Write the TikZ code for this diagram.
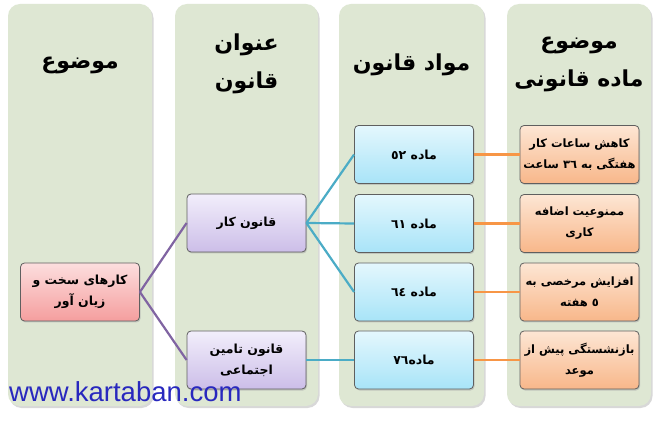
\documentclass[tikz,border=0pt]{standalone}
\usepackage{fontspec}
\usepackage{tikz}
\usetikzlibrary{shadows}
\TeXXeTstate=1
\newfontfamily\arabicfont[Script=Arabic]{DejaVu Sans}
\newfontfamily\sitefont{Liberation Sans}
\definecolor{panelgreen}{RGB}{222,231,211}
\definecolor{boxborder}{RGB}{95,95,95}
\definecolor{purpleline}{RGB}{128,100,162}
\definecolor{tealline}{RGB}{75,172,198}
\definecolor{orangeline}{RGB}{247,150,70}
\definecolor{sitecolor}{RGB}{40,40,190}

\begin{document}
\begin{tikzpicture}[x=1pt,y=-1pt,
                    panel/.style={fill=panelgreen, rounded corners=12pt,
                        drop shadow={shadow xshift=1.5pt, shadow yshift=-2pt, fill=black!30}},
                    head/.style={align=center, font=\arabicfont\bfseries\fontsize{22}{38}\selectfont},
                    box/.style={draw=boxborder, line width=0.8pt, rounded corners=4pt,
                        minimum width=119pt, minimum height=58pt, inner xsep=2pt, align=center,
                        font=\arabicfont\bfseries\fontsize{12.5}{21}\selectfont,
                        drop shadow={shadow xshift=1pt, shadow yshift=-1.5pt, fill=black!35}},
                    redbox/.style={box, top color={rgb,255:red,252;green,222;blue,222}, bottom color={rgb,255:red,245;green,158;blue,158}},
                    purplebox/.style={box, top color={rgb,255:red,242;green,238;blue,251}, bottom color={rgb,255:red,204;green,190;blue,232}},
                    bluebox/.style={box, top color={rgb,255:red,228;green,247;blue,253}, bottom color={rgb,255:red,168;green,228;blue,248}},
                    orangebox/.style={box, font=\arabicfont\bfseries\fontsize{11.5}{21}\selectfont,
                        top color={rgb,255:red,253;green,230;blue,212}, bottom color={rgb,255:red,248;green,183;blue,138}},
                    link/.style={line width=2.2pt}]
                    \useasboundingbox[fill=white] (0,0) rectangle (662,422);
                    % columns
                    \path[panel] (8,4) rectangle (152,406);
                    \path[panel] (175,4) rectangle (318,406);
                    \path[panel] (339,4) rectangle (484,406);
                    \path[panel] (507,4) rectangle (651,406);
                    \node[head] (h1) at (80,65) {\beginR موضوع\endR};
                    \node[head] (h2) at (246.5,64) {\beginR عنوان\endR\\\beginR قانون\endR};
                    \node[head] (h3) at (411.5,65) {\beginR مواد قانون\endR};
                    \node[head] (h4) at (579,64) {\beginR موضوع\endR\\\beginR ماده قانونی\endR};
                    % boxes
                    \node[redbox] (topic) at (80,292) {\beginR کارهای سخت و\endR\\\beginR زیان آور\endR};
                    \node[purplebox] (kar) at (246.5,223) {\beginR قانون کار\endR};
                    \node[purplebox] (tamin) at (246.5,360) {\beginR قانون تامین\endR\\\beginR اجتماعی\endR};
                    \node[bluebox] (m52) at (414,154.5) {\beginR ماده \beginL٥٢\endL\endR};
                    \node[bluebox] (m61) at (414,223.5) {\beginR ماده \beginL٦١\endL\endR};
                    \node[bluebox] (m64) at (414,292) {\beginR ماده \beginL٦٤\endL\endR};
                    \node[bluebox] (m76) at (414,360) {\beginR ماده\beginL٧٦\endL\endR};
                    \node[orangebox] (o52) at (579.5,154.5) {\beginR کاهش ساعات کار\endR\\\beginR هفتگی به \beginL٣٦\endL{} ساعت\endR};
                    \node[orangebox] (o61) at (579.5,223.5) {\beginR ممنوعیت اضافه\endR\\\beginR کاری\endR};
                    \node[orangebox] (o64) at (579.5,292) {\beginR افزایش مرخصی به\endR\\\beginR \beginL٥\endL{} هفته\endR};
                    \node[orangebox] (o76) at (579.5,360) {\beginR بازنشستگی  پیش از\endR\\\beginR موعد\endR};
                    % links
                    \draw[link, purpleline] (topic.east) -- (kar.west);
                    \draw[link, purpleline] (topic.east) -- (tamin.west);
                    \draw[link, tealline] (kar.east) -- (m52.west);
                    \draw[link, tealline] (kar.east) -- (m61.west);
                    \draw[link, tealline] (kar.east) -- (m64.west);
                    \draw[link, tealline] (tamin.east) -- (m76.west);
                    \foreach \n in {52,61,64,76}
                        \draw[link, orangeline] (m\n.east) -- (o\n.west);
                    \node[anchor=base west, inner sep=0pt, text=sitecolor,
                          font=\sitefont\fontsize{27.5}{30}\selectfont] (site) at (9,401) {www.kartaban.com};
                \end{tikzpicture}
\end{document}
